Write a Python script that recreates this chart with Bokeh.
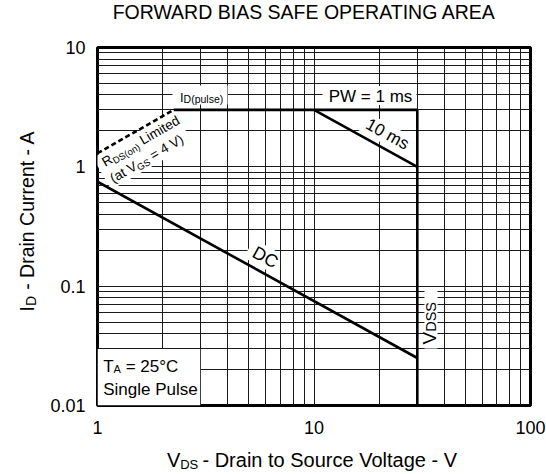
import math
from bokeh.plotting import figure
from bokeh.models import Label, FixedTicker, Range1d
from bokeh.embed import file_html
from bokeh.resources import INLINE

# ---------------- data ----------------
dc_v = [1, 30]
dc_i = [0.75, 0.025]
ms10_v = [10, 30]
ms10_i = [3, 1]
pulse_v = [2.25, 30]
pulse_i = [3, 3]
vdss_v = [30, 30]
vdss_i = [3, 0.01]
rds_v = [1, 2.25]
rds_i = [1.3, 3]

x_ticks = [1, 10, 100]
x_tick_labels = ["1", "10", "100"]
y_ticks = [0.01, 0.1, 1, 10]
y_tick_labels = ["0.01", "0.1", "1", "10"]

# ---------------- layout ----------------
FONT = "Liberation Sans"
CW, CH = 546, 474
BL, BR, BT, BB = 97, 16, 47, 69
FX0, FY0 = BL, BT          # frame top-left in page pixels
FW, FH = CW - BL - BR, CH - BT - BB
NB = "\u00a0"
BASE_FIX = 0.36            # observed baseline shift of rendered labels (em)


def dx(px):
    return 10 ** (2.0 * (px - FX0) / FW)


def dy(py):
    return 10 ** (1 - 3.0 * (py - FY0) / FH)


AW = {' ': 278, NB: 278, '(': 333, ')': 333, '-': 333, '.': 278, '=': 584,
      '°': 400, 'A': 667, 'B': 667, 'C': 722, 'D': 722, 'E': 667, 'F': 611,
      'G': 778, 'I': 278, 'L': 556, 'N': 722, 'O': 778, 'P': 667, 'R': 722,
      'S': 667, 'T': 611, 'V': 667, 'W': 944, 'a': 556, 'c': 500, 'd': 556,
      'e': 556, 'g': 556, 'i': 222, 'l': 222, 'm': 833, 'n': 556, 'o': 556,
      'p': 556, 'r': 333, 's': 500, 't': 278, 'u': 556, 'v': 500, 'f': 278,
      'h': 556}


def tw(s, size):
    return sum(AW.get(c, 556) for c in s) * size / 1000.0


def seg_width(segs):
    return sum(tw(t, s) for t, s, d, pl in segs)


p = figure(width=CW, height=CH, x_axis_type="log", y_axis_type="log",
           x_range=Range1d(1, 100), y_range=Range1d(0.01, 10),
           output_backend="svg", toolbar_location=None,
           min_border_left=BL, min_border_right=BR,
           min_border_top=BT, min_border_bottom=BB)
p.background_fill_color = "white"
p.border_fill_color = "white"
p.outline_line_color = "black"
p.outline_line_width = 3

x_minor = [m * 10 ** e for e in range(0, 2) for m in range(2, 10)]
y_minor = [m * 10 ** e for e in range(-2, 1) for m in range(2, 10)]
xt = FixedTicker(ticks=x_ticks, minor_ticks=x_minor)
yt = FixedTicker(ticks=y_ticks, minor_ticks=y_minor)
p.xaxis.ticker = xt
p.yaxis.ticker = yt
p.xgrid.ticker = xt
p.ygrid.ticker = yt
for g in (p.xgrid, p.ygrid):
    g.grid_line_color = "#1a1a1a"
    g.grid_line_width = 1
    g.minor_grid_line_color = "#1a1a1a"
    g.minor_grid_line_width = 1

p.xaxis.major_label_overrides = {v: s for v, s in zip(x_ticks, x_tick_labels)}
p.yaxis.major_label_overrides = {v: s for v, s in zip(y_ticks, y_tick_labels)}
for ax in (p.xaxis, p.yaxis):
    ax.axis_line_color = None
    ax.major_tick_line_color = None
    ax.minor_tick_line_color = None
    ax.major_tick_out = 0
    ax.minor_tick_out = 0
    ax.major_label_text_font = FONT
    ax.major_label_text_font_size = "18px"
    ax.major_label_text_color = "black"
p.xaxis.major_label_standoff = 15
p.yaxis.major_label_standoff = 12


def box(cx, cy, w, h, deg=0.0):
    p.rect(x=[dx(cx)], y=[dy(cy)], width=w, height=h, width_units="screen",
           height_units="screen", angle=math.radians(deg),
           fill_color="white", line_color=None)


def put(segs, px, py, deg=0.0):
    """segs: (text, font px, baseline drop px, panel). (px, py) = baseline start."""
    a = math.radians(deg)
    ux, uy = math.cos(a), -math.sin(a)
    nx, ny = math.sin(a), math.cos(a)
    for text, size, drop, place in segs:
        lead = len(text) - len(text.lstrip(" "))
        if lead:
            w0 = tw(text[:lead], size)
            px += ux * w0
            py += uy * w0
            text = text[lead:]
        d = drop - BASE_FIX * size
        x = px + nx * d
        y = py + ny * d
        if text:
            lab = Label(x=dx(x), y=dy(y), text=text, angle=a,
                        text_font=FONT, text_font_size=f"{size}px",
                        text_align="left", text_baseline="alphabetic",
                        text_color="black")
            if place == "center":
                p.add_layout(lab)
            else:
                p.add_layout(lab, place)
        w = tw(text, size)
        px += ux * w
        py += uy * w


def put_center(segs, cx, by, deg=0.0):
    a = math.radians(deg)
    w = seg_width(segs)
    put(segs, cx - math.cos(a) * w / 2, by + math.sin(a) * w / 2, deg)


C = "center"
# white panels behind annotation texts (over grid, under curves)
p.quad(left=[1], right=[2.98], bottom=[0.01], top=[0.0297],
       fill_color="white", line_color=None)
box(199.5, 94.5, 55, 19)
box(369, 95, 94, 19)
box(383, 132, 52, 20, -28.7)
box(261.5, 255, 30, 21, -28.9)
box(430.5, 318, 13, 60)
box(142.3, 149.8, 94, 37, 30)

# curves
p.line(dc_v, dc_i, line_color="black", line_width=2.6)
p.line(ms10_v, ms10_i, line_color="black", line_width=2.6)
p.line(pulse_v, pulse_i, line_color="black", line_width=2.6)
p.line(vdss_v, vdss_i, line_color="black", line_width=2.6)
p.line(rds_v, rds_i, line_color="black", line_width=2.6, line_dash="5 3")

# annotation texts (inside the frame)
put([("I", 13, 0, C), ("D(pulse)", 10.5, 1, C)], 179.5, 101.5)
put_center([("PW = 1 ms", 17, 0, C)], 370, 101.7)
put_center([("10 ms", 17, 0, C)], 384, 139, -28.7)
put_center([("DC", 18, 0, C)], 261.7, 262.5, -28.9)
put([("V", 19, 0, C), ("DSS", 14.5, 0, C)], 436, 344, 90)
put([("R", 13.5, 0, C), ("DS(on)", 9.5, 2, C), (" Limited", 13.5, 0, C)],
    105, 166.7, 30)
put([("(at V", 13.5, 0, C), ("GS", 9.5, 2, C), (" = 4 V)", 13.5, 0, C)],
    113, 183, 30)
put([("T", 17, 0, C), ("A", 11, 1, C), (" = 25°C", 17, 0, C)], 102.7, 371.7)
put([("Single Pulse", 17, 0, C)], 102.7, 395)

# title and axis titles: placed in side panels so they are not clipped.
# Main text keeps a non-breaking-space gap where the subscript sits.
put_center([("FORWARD BIAS SAFE OPERATING AREA", 19.5, 0, "above")], 305, 19)

XS = 20
x_main = "V" + NB * 4 + "- Drain to Source Voltage - V"
xw = tw(x_main, XS)
x0 = 312 - xw / 2
put([(x_main, XS, 0, "below")], x0, 466.5)
put([("DS", 13, 2, "above")], x0 + tw("V", XS), 466.5)

YS = 19.5
y_main = "I" + NB * 3 + "- Drain Current - A"
yw = tw(y_main, YS)
y0 = 220.5 + yw / 2
put([(y_main, YS, 0, "left")], 33.5, y0, 90)
put([("D", 14, 2, "left")], 33.5, y0 - tw("I", YS), 90)

open("out.html", "w").write(file_html(p, INLINE))
